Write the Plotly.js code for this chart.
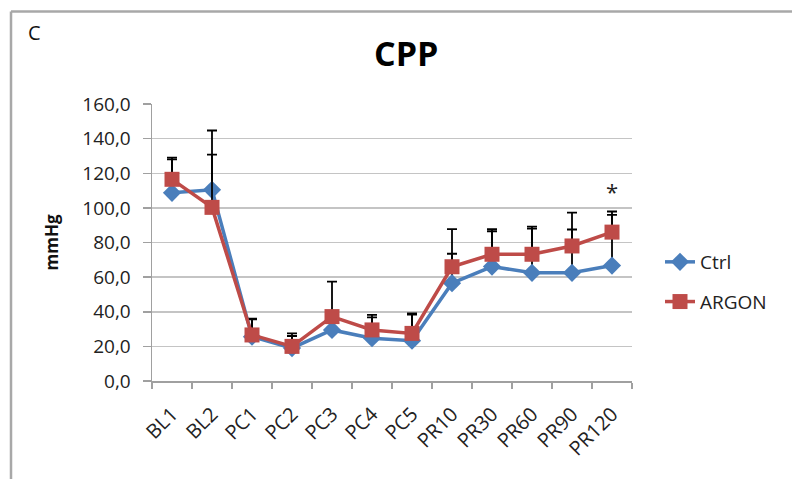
<!DOCTYPE html>
<html>
<head>
<meta charset="utf-8">
<script src="https://cdn.plot.ly/plotly-3.0.1.min.js"></script>
<style>html,body{margin:0;padding:0;background:#fff;}#chart{width:792px;height:479px;}</style>
</head>
<body>
<div id="chart"></div>
<script>
var categories = ["BL1","BL2","PC1","PC2","PC3","PC4","PC5","PR10","PR30","PR60","PR90","PR120"];
var ctrlValues  = [108.7, 110.4, 25.6, 19.0, 29.5, 24.7, 23.3, 56.5, 66.1, 62.5, 62.5, 66.7];
var ctrlErrors  = [19.3, 34.3, 10.4, 7.0, 5.0, 12.0, 15.0, 17.0, 20.4, 25.5, 25.0, 29.3];
var argonValues = [116.5, 100.3, 26.6, 20.0, 37.2, 29.5, 27.5, 66.0, 73.2, 73.2, 78.0, 86.0];
var argonErrors = [12.5, 30.5, 9.0, 7.5, 20.2, 8.7, 11.5, 21.7, 14.5, 16.0, 19.3, 11.9];
var yTickValues = [0, 20, 40, 60, 80, 100, 120, 140, 160];

var FONT = "Open Sans, sans-serif";
var zeros = categories.map(function(){return 0;});

var traces = [
  {
    type: "scatter", mode: "lines+markers", name: "Ctrl", legendgroup: "a",
    x: categories, y: ctrlValues,
    line: {color: "#4A7EBB", width: 3.5},
    marker: {symbol: "diamond", size: 14, color: "#4A7EBB"},
    error_y: {type: "data", symmetric: false, array: ctrlErrors, arrayminus: zeros,
              color: "#000", thickness: 1.8, width: 5}
  },
  {
    type: "scatter", mode: "lines+markers", name: "ARGON", legendgroup: "b",
    x: categories, y: argonValues,
    line: {color: "#BE4B48", width: 3.5},
    marker: {symbol: "square", size: 15, color: "#BE4B48"},
    error_y: {type: "data", symmetric: false, array: argonErrors, arrayminus: zeros,
              color: "#000", thickness: 1.8, width: 5}
  }
];

function px(x){ return (x - 152) / 480; }
function py(y){ return (381 - y) / 277; }

var layout = {
  width: 792, height: 479,
  margin: {l: 152, r: 160, t: 104, b: 98},
  paper_bgcolor: "#fff", plot_bgcolor: "#fff",
  separators: ", ",
  font: {family: FONT, color: "#222"},
  showlegend: true,
  legend: {x: px(660), y: py(282), xanchor: "left", yanchor: "middle",
           font: {family: FONT, size: 19, color: "#222"},
           traceorder: "grouped", tracegroupgap: 12, bgcolor: "rgba(0,0,0,0)"},
  xaxis: {
    type: "category", range: [-0.5, 11.5], tickson: "boundaries",
    ticks: "outside", ticklen: 6, tickcolor: "#a0a0a0", tickwidth: 1.5,
    showline: true, linecolor: "#a0a0a0", linewidth: 1.5,
    showgrid: false, tickangle: -45, ticklabelstandoff: 12,
    tickfont: {family: FONT, size: 20, color: "#222"}
  },
  yaxis: {
    range: [0, 160], tickvals: yTickValues, tickformat: ".1f",
    ticks: "outside", ticklen: 8, tickcolor: "#a0a0a0", tickwidth: 1.5,
    showline: true, linecolor: "#a0a0a0", linewidth: 1.5,
    showgrid: true, gridcolor: "#c4c4c4", gridwidth: 1.5, zeroline: false,
    ticklabelstandoff: 8,
    tickfont: {family: FONT, size: 19, color: "#222"},
    title: {text: "mmHg", font: {family: FONT, size: 17, color: "#111", weight: "bold"}, standoff: 19}
  },
  annotations: [
    {xref: "paper", yref: "paper", x: px(406), y: py(53), text: "<b>CPP</b>", showarrow: false,
     xanchor: "center", yanchor: "middle", font: {family: FONT, size: 34, color: "#000"}},
    {xref: "paper", yref: "paper", x: px(34), y: py(33), text: "C", showarrow: false,
     xanchor: "center", yanchor: "middle", font: {family: FONT, size: 20, color: "#111"}},
    {xref: "x", yref: "y", x: "PR120", y: 110, text: "*", showarrow: false,
     xanchor: "center", yanchor: "middle", font: {family: FONT, size: 22, color: "#222"}}
  ],
  shapes: [
    {type: "line", xref: "paper", yref: "paper", x0: px(11), x1: px(800), y0: py(11.5), y1: py(11.5),
     line: {color: "#a8a8a8", width: 2.5}},
    {type: "line", xref: "paper", yref: "paper", x0: px(11), x1: px(11), y0: py(11.5), y1: py(490),
     line: {color: "#a8a8a8", width: 2.5}}
  ]
};

Plotly.newPlot("chart", traces, layout, {displayModeBar: false, staticPlot: true});
</script>
</body>
</html>
